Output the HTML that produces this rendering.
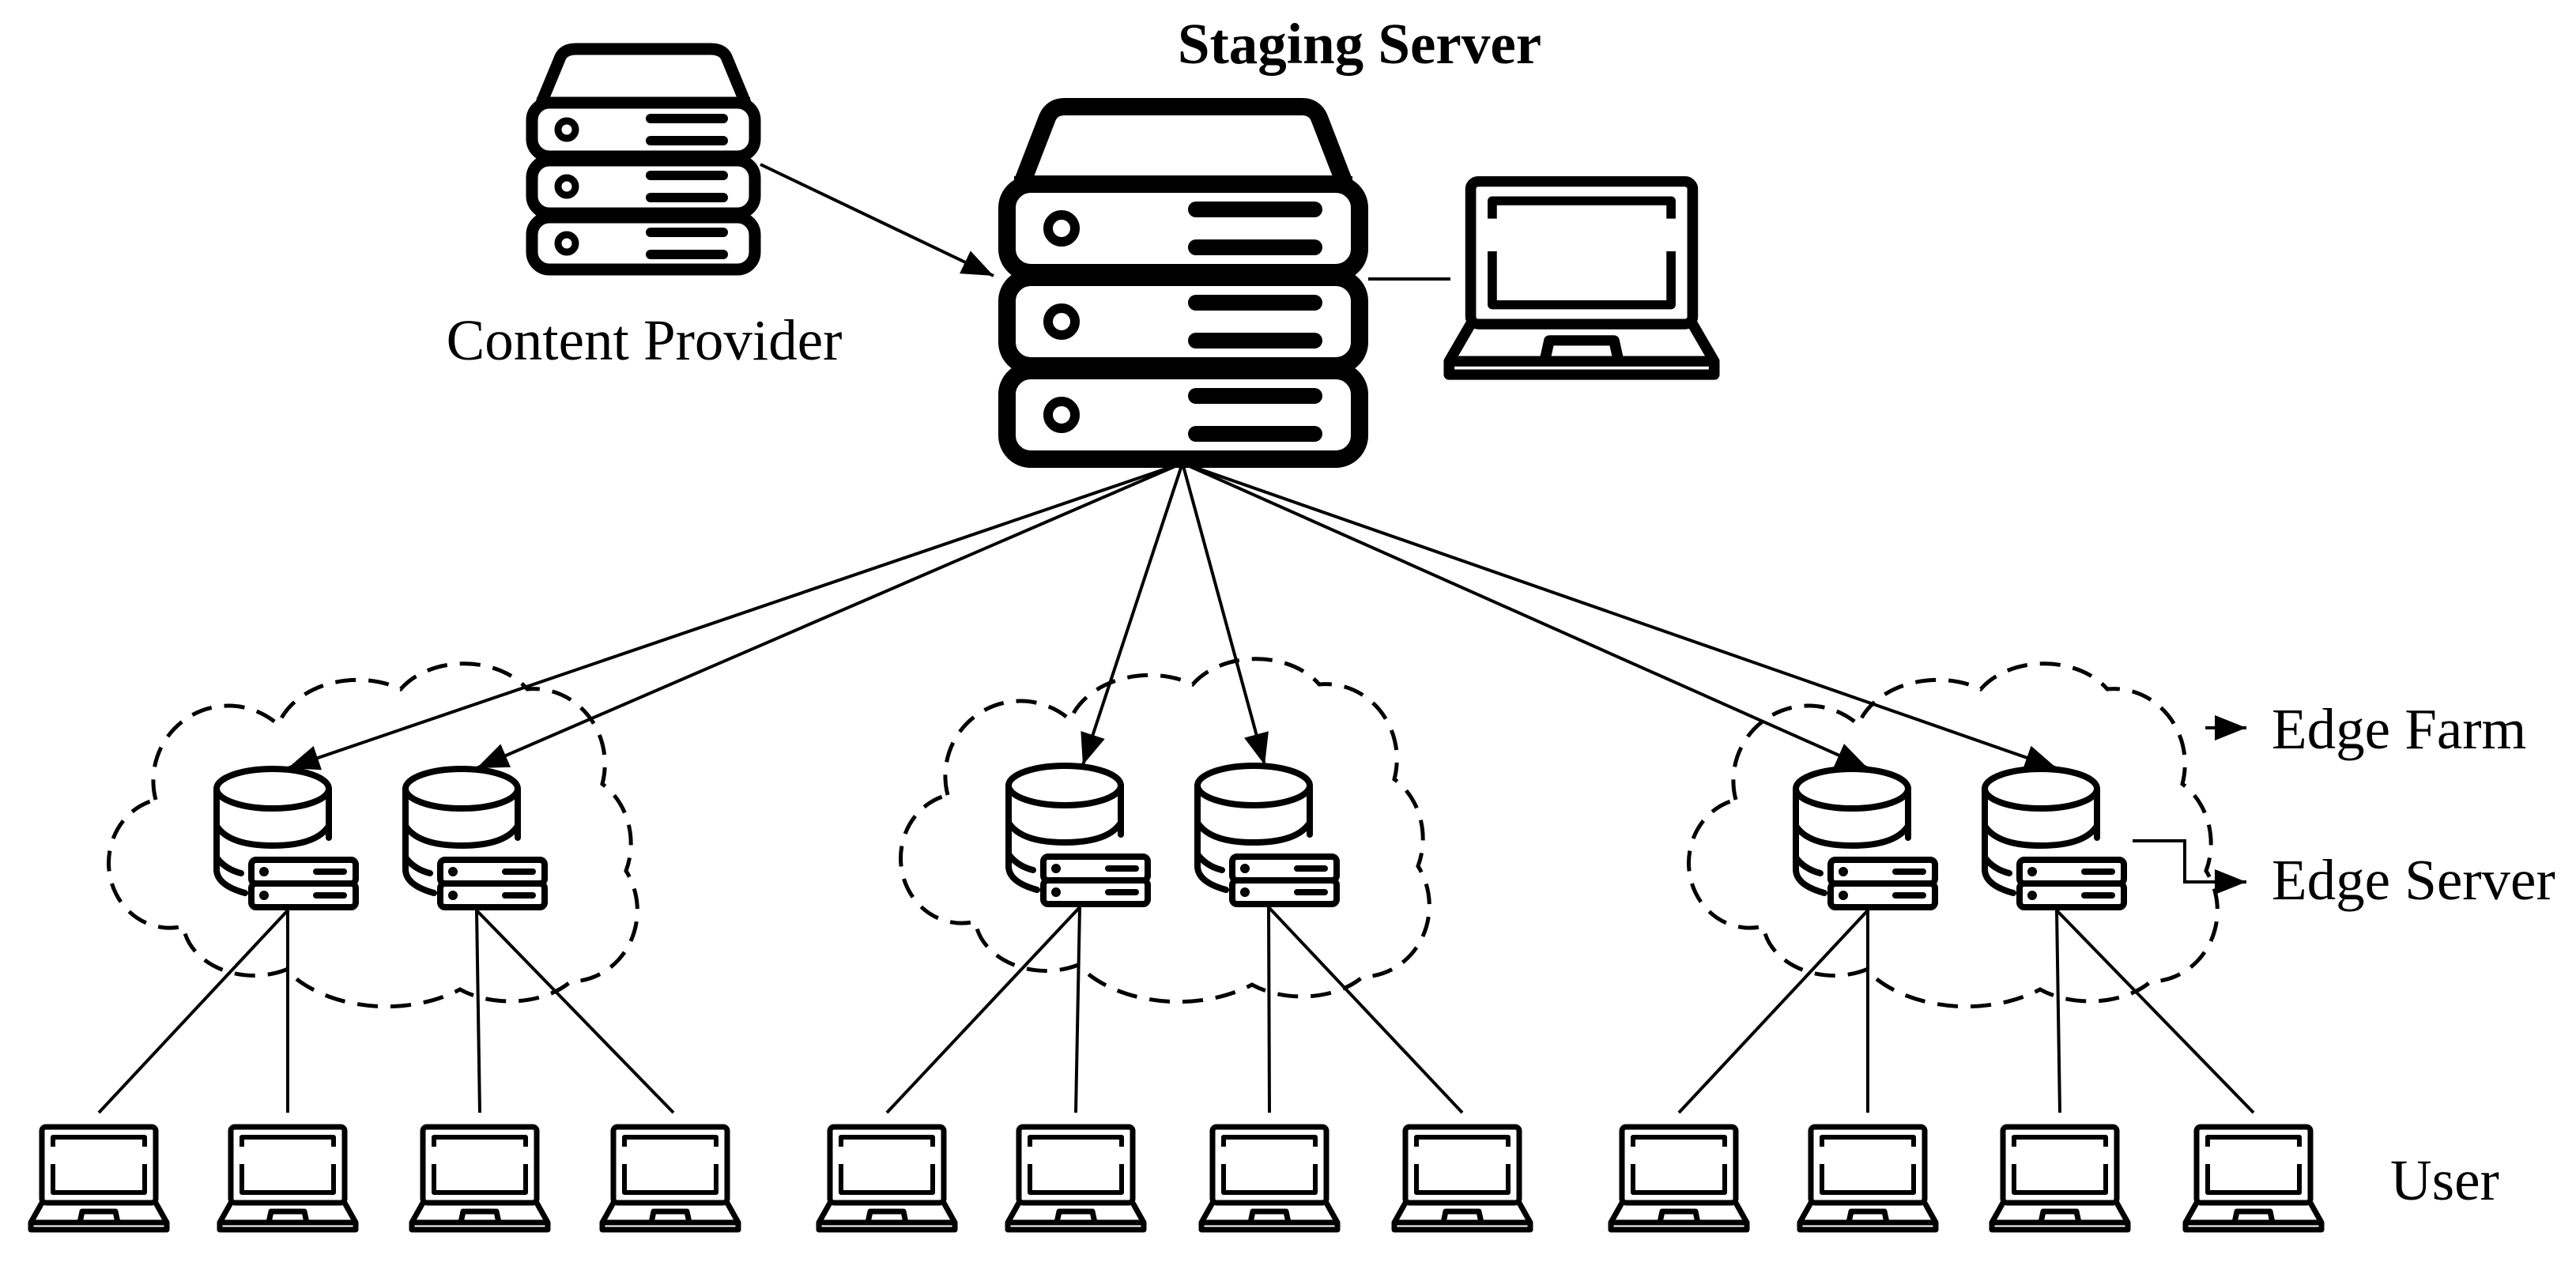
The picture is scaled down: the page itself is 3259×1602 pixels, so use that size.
<!DOCTYPE html>
<html><head><meta charset="utf-8"><style>
html,body{margin:0;padding:0;background:#fff;}
svg{display:block;}
text{font-family:"Liberation Serif",serif;font-size:73px;fill:#000;}
</style></head><body>
<svg width="3259" height="1602" viewBox="0 0 3259 1602" xmlns="http://www.w3.org/2000/svg">
<defs>
<marker id="ah" viewBox="0 0 10 10" refX="10" refY="5" markerWidth="10" markerHeight="10" markerUnits="strokeWidth" orient="auto">
<path d="M0,1 L10,5 L0,9 Z" fill="#000"/></marker>
<g id="bigsrv" fill="none" stroke="#000">
<path d="M28,112 L62,24 Q68,10 84,10 L384,10 Q400,10 406,24 L440,112" stroke-width="22" stroke-linejoin="round"/>
<line x1="20" y1="108" x2="448" y2="108" stroke-width="20"/>
<rect x="11" y="108" width="446" height="112" rx="30" stroke-width="22"/>
<rect x="11" y="226" width="446" height="112" rx="30" stroke-width="22"/>
<rect x="11" y="344" width="446" height="112" rx="30" stroke-width="22"/>
<g stroke-width="12"><circle cx="80" cy="164" r="17"/><circle cx="80" cy="282" r="17"/><circle cx="80" cy="400" r="17"/></g>
<g stroke-width="20" stroke-linecap="round">
<line x1="250" y1="140" x2="400" y2="140"/><line x1="250" y1="188" x2="400" y2="188"/>
<line x1="250" y1="258" x2="400" y2="258"/><line x1="250" y1="306" x2="400" y2="306"/>
<line x1="250" y1="376" x2="400" y2="376"/><line x1="250" y1="424" x2="400" y2="424"/>
</g></g>
<g id="cpsrv" fill="none" stroke="#000">
<path d="M20,130 L44,72 Q49,62 64,62 L234,62 Q249,62 254,72 L278,130" stroke-width="15" stroke-linejoin="round"/>
<line x1="14" y1="130" x2="284" y2="130" stroke-width="14"/>
<rect x="8" y="130" width="282" height="68" rx="22" stroke-width="15"/>
<rect x="8" y="203" width="282" height="67" rx="22" stroke-width="15"/>
<rect x="8" y="275" width="282" height="66" rx="22" stroke-width="15"/>
<g stroke-width="9"><circle cx="52" cy="164" r="11"/><circle cx="52" cy="236" r="11"/><circle cx="52" cy="308" r="11"/></g>
<g stroke-width="12" stroke-linecap="round">
<line x1="158" y1="150" x2="250" y2="150"/><line x1="158" y1="178" x2="250" y2="178"/>
<line x1="158" y1="222" x2="250" y2="222"/><line x1="158" y1="250" x2="250" y2="250"/>
<line x1="158" y1="294" x2="250" y2="294"/><line x1="158" y1="322" x2="250" y2="322"/>
</g></g>
<g id="laptop" fill="none" stroke="#000" stroke-width="7" stroke-linejoin="round">
<rect x="-72" y="3" width="144" height="96" rx="5"/>
<path d="M-58,28 V16 H58 V28 M58,50 V86 H-58 V50" stroke-width="6"/>
<path d="M-72,99 L-86,124 L-86,133 L86,133 L86,124 L72,99"/>
<line x1="-86" y1="124" x2="86" y2="124"/>
<path d="M-24,124 L-21,110 L21,110 L24,124"/>
</g>
<g id="db" fill="none" stroke="#000" stroke-width="8" stroke-linecap="round">
<ellipse cx="75" cy="28" rx="71" ry="25"/>
<path d="M4,28 V130 Q4,150 40,160"/>
<path d="M146,28 V90"/>
<path d="M4,75 Q20,100 75,100 Q130,100 146,75"/>
<path d="M4,115 Q15,130 35,135"/>
<rect x="48" y="118" width="132" height="30" rx="6"/>
<rect x="48" y="148" width="132" height="30" rx="6"/>
<circle cx="64" cy="133" r="2" fill="#000"/><circle cx="64" cy="163" r="2" fill="#000"/>
<line x1="130" y1="133" x2="165" y2="133"/><line x1="130" y1="163" x2="165" y2="163"/>
</g>
<path id="cloud" fill="none" stroke="#000" stroke-width="5" stroke-dasharray="26,16" d="M35,170 A95 95 0 0 1 190,75 A105 80 0 0 1 345,30 A95 70 0 0 1 505,30 A90 95 0 0 1 600,150 A80 90 0 0 1 630,260 A85 90 0 0 1 560,400 A95 60 0 0 1 420,410 A150 100 0 0 1 200,385 A90 70 0 0 1 70,330 A75 80 0 0 1 35,170 Z"/>
</defs>

<text x="1720" y="80" text-anchor="middle" font-weight="bold">Staging Server</text>
<text x="815" y="455" text-anchor="middle">Content Provider</text>
<text x="2874" y="947">Edge Farm</text>
<text x="2874" y="1138">Edge Server</text>
<text x="3024" y="1518">User</text>

<use href="#bigsrv" transform="translate(1263,125)"/>
<use href="#cpsrv" transform="translate(665,0)"/>

<g transform="translate(2001,224) scale(1.95,1.88)"><use href="#laptop"/></g>
<line x1="1731" y1="353" x2="1835" y2="353" stroke="#000" stroke-width="4"/>

<line x1="962" y1="208" x2="1257" y2="349" stroke="#000" stroke-width="4" marker-end="url(#ah)"/>

<use href="#cloud" transform="translate(162,842)"/>
<use href="#cloud" transform="translate(1164,836)"/>
<use href="#cloud" transform="translate(2161,842)"/>

<g stroke="#000" stroke-width="4" marker-end="url(#ah)">
<line x1="1496" y1="586" x2="364" y2="972"/>
<line x1="1496" y1="586" x2="603" y2="972"/>
<line x1="1496" y1="586" x2="1370" y2="968"/>
<line x1="1496" y1="586" x2="1600" y2="968"/>
<line x1="1496" y1="586" x2="2363" y2="972"/>
<line x1="1496" y1="586" x2="2602" y2="972"/>
</g>

<use href="#db" transform="translate(270,970)"/>
<use href="#db" transform="translate(509,970)"/>
<use href="#db" transform="translate(1272,966)"/>
<use href="#db" transform="translate(1511,966)"/>
<use href="#db" transform="translate(2268,970)"/>
<use href="#db" transform="translate(2507,970)"/>

<g stroke="#000" stroke-width="4">
<line x1="364" y1="1152" x2="125" y2="1408"/><line x1="364" y1="1152" x2="364" y2="1408"/>
<line x1="603" y1="1152" x2="607" y2="1408"/><line x1="603" y1="1152" x2="852" y2="1408"/>
<line x1="1366" y1="1148" x2="1122" y2="1408"/><line x1="1366" y1="1148" x2="1361" y2="1408"/>
<line x1="1605" y1="1148" x2="1606" y2="1408"/><line x1="1605" y1="1148" x2="1850" y2="1408"/>
<line x1="2363" y1="1152" x2="2124" y2="1408"/><line x1="2363" y1="1152" x2="2363" y2="1408"/>
<line x1="2602" y1="1152" x2="2606" y2="1408"/><line x1="2602" y1="1152" x2="2851" y2="1408"/>
</g>

<use href="#laptop" transform="translate(125,1423)"/>
<use href="#laptop" transform="translate(364,1423)"/>
<use href="#laptop" transform="translate(607,1423)"/>
<use href="#laptop" transform="translate(848,1423)"/>
<use href="#laptop" transform="translate(1122,1423)"/>
<use href="#laptop" transform="translate(1361,1423)"/>
<use href="#laptop" transform="translate(1606,1423)"/>
<use href="#laptop" transform="translate(1850,1423)"/>
<use href="#laptop" transform="translate(2124,1423)"/>
<use href="#laptop" transform="translate(2363,1423)"/>
<use href="#laptop" transform="translate(2606,1423)"/>
<use href="#laptop" transform="translate(2851,1423)"/>

<g stroke="#000" stroke-width="4" fill="none">
<line x1="2790" y1="921" x2="2842" y2="921" marker-end="url(#ah)"/>
<path d="M2698,1064 H2764 V1116 H2842" marker-end="url(#ah)"/>
</g>
</svg>
</body></html>
